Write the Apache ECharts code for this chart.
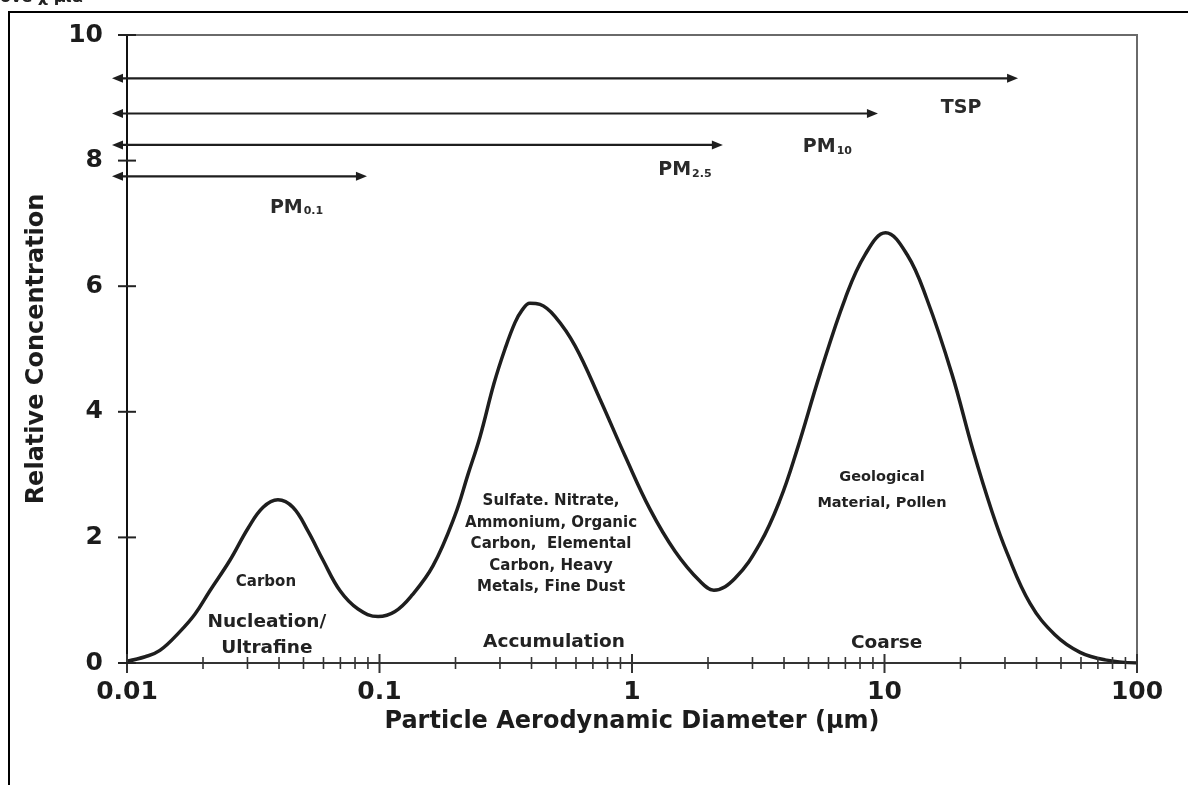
<!DOCTYPE html>
<html>
<head>
<meta charset="utf-8">
<script src="https://cdn.jsdelivr.net/npm/echarts@6/dist/echarts.min.js"></script>
<style>html,body{margin:0;padding:0;background:#fff}#c{width:1188px;height:785px}</style>
</head>
<body>
<div id="c"></div>
<script>
// ---- data ----
const curveX = [0.01, 0.0118, 0.0135, 0.0162, 0.0186, 0.0213, 0.0256, 0.0302, 0.0346, 0.0396,
  0.0454, 0.0521, 0.0597, 0.0698, 0.0822, 0.0987, 0.1152, 0.1345, 0.163, 0.199,
  0.224, 0.250, 0.284, 0.314, 0.344, 0.367, 0.394, 0.432, 0.495, 0.595,
  0.747, 0.938, 1.178, 1.48, 1.86, 2.11, 2.56, 3.21, 3.86, 4.50,
  5.55, 6.98, 8.37, 10.1, 12.3, 14.7, 18.5, 22.4, 26.7, 30.6,
  37.7, 47.3, 59.5, 74.7, 100];
const curveY = [0.03, 0.1, 0.2, 0.5, 0.78, 1.15, 1.64, 2.15, 2.48, 2.6,
  2.48, 2.1, 1.64, 1.15, 0.86, 0.74, 0.82, 1.08, 1.55, 2.35,
  3.0, 3.6, 4.45, 5.0, 5.42, 5.62, 5.73, 5.71, 5.52, 5.05,
  4.2, 3.3, 2.45, 1.78, 1.3, 1.16, 1.35, 1.9, 2.6, 3.39,
  4.6, 5.8, 6.5, 6.85, 6.5, 5.8, 4.6, 3.39, 2.4, 1.75,
  0.95, 0.45, 0.17, 0.05, 0.0];

const yTicks = [0, 2, 4, 6, 8, 10];
const xDecades = [0.01, 0.1, 1, 10, 100];
const xMinorMultipliers = [2, 3, 4, 5, 6, 7, 8, 9];

// size-range arrows: level (y), start and end diameter
const rangeNames = ['TSP', 'PM10', 'PM2.5', 'PM0.1'];
const rangeLevels = [9.31, 8.75, 8.25, 7.75];
const rangeStarts = [0.01, 0.01, 0.01, 0.01];
const rangeEnds = [33.8, 9.42, 2.29, 0.0892];

// range labels (main text + subscript) and their anchor in data space
const rangeLabelMain = ['TSP', 'PM', 'PM', 'PM'];
const rangeLabelSub = ['', '10', '2.5', '0.1'];
const rangeLabelX = [20.1, 4.75, 1.27, 0.0368];
const rangeLabelY = [8.84, 8.22, 7.85, 7.26];

// mode annotations
const noteTexts = [
  'Carbon',
  'Nucleation/\nUltrafine',
  'Sulfate. Nitrate,\nAmmonium, Organic\nCarbon,  Elemental\nCarbon, Heavy\nMetals, Fine Dust',
  'Accumulation',
  'Geological\nMaterial, Pollen',
  'Coarse'
];
const noteX = [0.0355, 0.0358, 0.478, 0.491, 9.77, 10.2];
const noteY = [1.29, 0.446, 1.89, 0.33, 2.75, 0.32];

const xTitle = 'Particle Aerodynamic Diameter (µm)';
const yTitle = 'Relative Concentration';

// ---- styles ----
const FONT = '"DejaVu Sans", "Liberation Sans", sans-serif';
const INK = '#1c1c1c';
const noteSizes = [15, 18.5, 15, 18.5, 14.5, 18.5];
const noteLineHeights = [18, 26, 21.5, 26, 26, 22];

const chart = echarts.init(document.getElementById('c'), null, {renderer: 'canvas'});

const curveData = curveX.map((x, i) => [x, curveY[i]]);
const xTickData = [];
xDecades.forEach((d, i) => {
  xTickData.push([d, 0, 1]);
  if (i < xDecades.length - 1) xMinorMultipliers.forEach(m => xTickData.push([d * m, 0, 0]));
});
const yTickData = yTicks.map(v => [0.01, v]);
const arrowData = rangeNames.map((n, i) => [rangeStarts[i], rangeEnds[i], rangeLevels[i]]);
const rangeLabelData = rangeNames.map((n, i) => [rangeLabelX[i], rangeLabelY[i]]);
const noteData = noteTexts.map((t, i) => [noteX[i], noteY[i]]);

const option = {
  backgroundColor: '#fff',
  animation: false,
  grid: {left: 127, right: 51, top: 35, bottom: 122, show: true, borderColor: '#6a6a6a', borderWidth: 2, outerBoundsMode: 'none'},
  xAxis: {
    type: 'log', logBase: 10, min: 0.01, max: 100,
    axisLine: {show: true, lineStyle: {color: '#333', width: 2}},
    axisTick: {show: false},
    splitLine: {show: false},
    axisLabel: {
      fontFamily: FONT, fontWeight: 'bold', fontSize: 25, color: INK, margin: 17,
      formatter: v => String(+Number(v).toPrecision(3))
    },
    name: xTitle, nameLocation: 'middle', nameGap: 44,
    nameTextStyle: {fontFamily: FONT, fontWeight: 'bold', fontSize: 24, color: INK}
  },
  yAxis: {
    type: 'value', min: 0, max: 10, interval: 2,
    axisLine: {show: true, lineStyle: {color: '#111', width: 2}},
    axisTick: {show: false},
    splitLine: {show: false},
    axisLabel: {fontFamily: FONT, fontWeight: 'bold', fontSize: 25, color: INK, margin: 24},
    name: yTitle, nameLocation: 'middle', nameGap: 78, nameRotate: 90,
    nameTextStyle: {fontFamily: FONT, fontWeight: 'bold', fontSize: 24, color: INK}
  },
  graphic: [
    {type: 'rect', shape: {x: 9, y: 12, width: 1300, height: 900}, style: {fill: 'none', stroke: '#000', lineWidth: 2}, silent: true},
    {type: 'text', left: 0, top: -10, style: {text: 'ove χ μια', font: 'bold 16px ' + FONT, fill: '#222'}, silent: true}
  ],
  series: [
    {
      type: 'line', data: curveData, showSymbol: false, smooth: 0.4, z: 5,
      lineStyle: {color: '#1e1e1e', width: 3.5}
    },
    {
      type: 'custom', data: xTickData, encode: {x: 0, y: 1}, clip: false, z: 6,
      renderItem: (params, api) => {
        const p = api.coord([api.value(0), 0]);
        const major = api.value(2) === 1;
        return {type: 'line', shape: {x1: p[0], y1: p[1] - (major ? 9 : 6), x2: p[0], y2: p[1] + (major ? 10 : 6)},
          style: {stroke: '#333', lineWidth: major ? 2 : 1.6}};
      }
    },
    {
      type: 'custom', data: yTickData, encode: {x: 0, y: 1}, clip: false, z: 6,
      renderItem: (params, api) => {
        const p = api.coord([api.value(0), api.value(1)]);
        return {type: 'line', shape: {x1: p[0] - 9, y1: p[1], x2: p[0] + 9, y2: p[1]}, style: {stroke: '#222', lineWidth: 2}};
      }
    },
    {
      type: 'custom', data: arrowData, encode: {x: [0, 1], y: 2}, clip: false, z: 7,
      renderItem: (params, api) => {
        const a = api.coord([api.value(0), api.value(2)]);
        const b = api.coord([api.value(1), api.value(2)]);
        const y = a[1];
        const x1 = a[0] - 15, x2 = b[0];
        return {type: 'group', children: [
          {type: 'line', shape: {x1: x1 + 6, y1: y, x2: x2 - 6, y2: y}, style: {stroke: '#1e1e1e', lineWidth: 2.2}},
          {type: 'polygon', shape: {points: [[x1, y], [x1 + 11, y - 4.5], [x1 + 11, y + 4.5]]}, style: {fill: '#1e1e1e'}},
          {type: 'polygon', shape: {points: [[x2, y], [x2 - 11, y - 4.5], [x2 - 11, y + 4.5]]}, style: {fill: '#1e1e1e'}}
        ]};
      }
    },
    {
      type: 'custom', data: rangeLabelData, encode: {x: 0, y: 1}, clip: false, z: 8,
      renderItem: (params, api) => {
        const i = params.dataIndex;
        const p = api.coord([api.value(0), api.value(1)]);
        const txt = rangeLabelSub[i] ? '{m|' + rangeLabelMain[i] + '}{s|' + rangeLabelSub[i] + '}' : '{m|' + rangeLabelMain[i] + '}';
        return {type: 'text', x: p[0], y: p[1], style: {
          text: txt, align: i === 0 ? 'center' : 'left', verticalAlign: 'middle',
          rich: {
            m: {fontFamily: FONT, fontWeight: 'bold', fontSize: 19, fill: '#2a2a2a', verticalAlign: 'bottom'},
            s: {fontFamily: FONT, fontWeight: 'bold', fontSize: 11, fill: '#2a2a2a', verticalAlign: 'bottom', padding: [9, 0, 0, 1]}
          }
        }};
      }
    },
    {
      type: 'custom', data: noteData, encode: {x: 0, y: 1}, clip: false, z: 8,
      renderItem: (params, api) => {
        const i = params.dataIndex;
        const p = api.coord([api.value(0), api.value(1)]);
        return {type: 'text', x: p[0], y: p[1], style: {
          text: noteTexts[i], align: 'center', verticalAlign: 'middle',
          fontFamily: FONT, fontWeight: 'bold', fontSize: noteSizes[i], lineHeight: noteLineHeights[i], fill: '#222'
        }};
      }
    }
  ]
};
chart.setOption(option);
</script>
</body>
</html>
